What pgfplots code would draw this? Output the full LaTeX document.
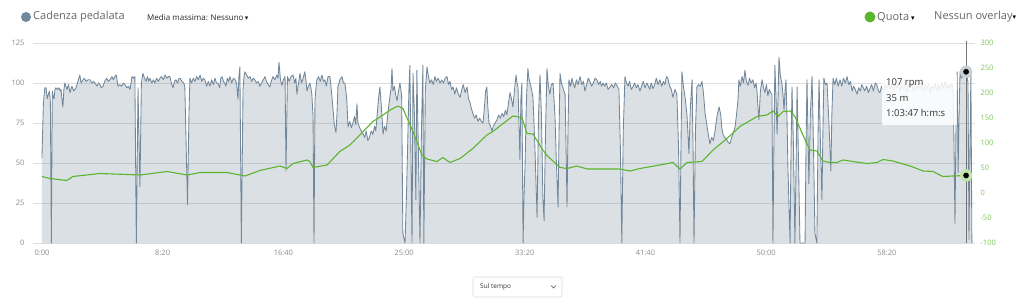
\documentclass[border=0pt]{standalone}
\usepackage{pgfplots}
\pgfplotsset{compat=1.18}
\usepackage{pgfplotstable}
\usepackage{fontspec}
\setmainfont{Open Sans}
\newfontfamily\dejavu{DejaVu Sans}
\definecolor{cadline}{HTML}{72879A}
\definecolor{cadfill}{HTML}{6E8496}
\definecolor{quota}{HTML}{5BB52C}
\definecolor{qlabel}{HTML}{7DC855}
\definecolor{labgray}{HTML}{8A8A8A}
\definecolor{gridgray}{HTML}{DEDEDE}
\definecolor{headgray}{HTML}{666666}
\definecolor{darktext}{HTML}{333333}
\definecolor{halogray}{HTML}{C9CED3}
\definecolor{halogreen}{HTML}{BFE3A8}

\pgfplotstableread{
t c
0 53
6 87
12 97
17 97
22 90
25 92
31 95
35 88
39 0
43 95
47 91
50 90
54 96
58 97
64 96
70 97
76 95
79 96
83 90
87 85
91 96
95 100
99 98
104 96
110 99
116 94
124 98
132 95
141 97
149 101
157 105
162 100
166 101
175 103
183 101
191 102
199 102
207 100
214 101
220 100
228 98
235 100
240 99
246 97
253 98
260 101
268 103
275 101
282 102
290 104
296 102
302 104
308 105
315 98
322 99
330 98
337 100
344 99
352 97
358 98
365 96
369 100
373 104
379 103
385 104
391 0
398 97
406 35
412 100
418 106
425 103
431 101
437 104
442 101
447 103
455 100
462 102
468 100
475 103
482 101
489 103
495 104
503 102
510 105
517 103
524 104
530 104
536 100
543 97
549 101
555 102
562 100
568 103
572 103
580 101
588 100
592 97
603 24
609 80
613 103
620 100
627 103
634 101
641 104
648 102
655 105
662 101
668 103
675 102
682 98
689 101
696 98
703 102
710 99
717 103
723 100
729 100
736 97
741 103
746 104
752 101
757 100
762 98
768 103
773 101
779 104
786 100
793 103
800 102
806 100
812 90
816 104
820 110
826 0
833 96
837 104
841 107
848 105
855 103
862 104
869 101
875 103
882 102
889 100
896 101
903 98
910 100
917 102
924 104
930 101
937 99
944 97.5
950 101
957 104
965 102
973 105
978 103
982 113
988 102
994 98.5
1000 102
1007 104
1011 45
1017 104
1024 101
1032 104
1040 105
1047 100
1052 103
1056 93
1062 99
1069 106
1075 100
1082 103
1089 107
1094 101
1098 95
1104 98
1110 100
1115 96
1118 93
1123 79
1127 0
1131 89
1135 97
1139 102
1146 104
1153 101
1160 105
1166 101
1172 102
1178 98
1185 104
1193 104
1199 95
1205 85
1211 74
1218 69
1222 80
1226 97.5
1234 102
1243 104
1249 100
1255 100
1259 95
1263 89
1268 72.5
1275 76
1282 72
1288 75
1295 79
1300 74
1305 87
1309 75
1316 72
1323 70
1330 68
1337 66
1343 70
1350 64
1357 66
1364 70
1371 68
1378 73
1383 70
1388 79
1394 90
1400 97.5
1406 85
1413 68
1419 73
1426 70
1433 81
1440 90
1446 96
1450 109
1454 95
1460 98
1466 92
1471 89
1477 95
1483 100
1490 92
1495 6
1504 0
1510 30
1516 68
1520 95
1524 111
1533 0
1537 106
1543 80
1549 27
1553 108
1559 60
1566 0
1572 70
1578 111
1582 0
1588 95
1595 110
1601 104
1607 100
1614 102
1621 99
1628 104
1634 101
1641 103
1649 100
1656 102
1663 100
1670 103
1678 104
1684 99
1690 101
1697 96
1703 97.5
1710 93
1717 97
1725 93
1732 91
1738 95
1745 99
1753 94
1761 97.5
1767 90
1773 88
1779 84
1785 81
1792 78
1799 80
1806 76
1813 78
1820 76
1827 75
1833 85
1838 95
1843 97.5
1847 85
1852 75
1858 73
1864 70
1870 73
1877 75
1885 77
1892 80
1899 78
1906 81
1913 79
1920 83
1926 80
1933 88
1939 94
1945 90
1951 85
1957 95
1964 105
1968 100
1972 97.5
1976 75
1980 52
1984 90
1988 100
1993 0
1997 30
2001 47.5
2007 90
2013 109
2017 103
2022 100
2028 96
2034 91
2042 60
2051 16
2057 80
2063 105
2069 80
2075 29
2080 14
2086 70
2092 109
2098 98
2104 93
2110 99
2117 100
2125 80
2131 50
2138 22.5
2142 70
2146 106
2152 100
2160 96
2167 93
2171 60
2175 22.5
2179 70
2183 102
2190 98
2196 103
2200 100
2207 97
2214 102
2221 99
2229 104
2236 99
2243 101
2249 95
2256 99
2263 103
2270 101
2277 98
2284 100
2291 103
2299 102
2306 99
2313 101
2318 98
2324 100
2331 98
2338 100
2345 96
2353 97.5
2360 99
2368 97
2375 100
2382 98.5
2390 96
2396 60
2402 0
2408 70
2415 104
2421 100
2428 98
2434 101
2441 96
2448 97.5
2455 100
2462 97
2469 99
2477 95
2484 98
2491 101
2498 97
2506 100
2512 98
2518 96
2524 100
2531 96.5
2538 99
2545 103
2552 99
2560 102
2567 98
2574 101
2580 99
2587 104
2593 103
2600 98
2607 96
2614 91
2622 96
2630 93
2637 60
2643 0
2647 60
2651 107
2657 98
2664 91
2672 80
2680 56
2686 85
2693 102
2697 60
2701 0
2707 70
2713 97.5
2720 99
2727 98
2734 101
2740 94
2747 81
2753 75
2760 68
2767 62
2774 66
2781 64
2788 70
2795 78
2800 82
2805 85
2812 80
2816 72
2821 68
2828 66
2835 65
2842 63
2850 62
2857 66
2864 69
2871 72.5
2877 80
2883 89
2887 102
2893 98
2900 104
2906 100
2912 108
2918 101
2925 98.5
2931 103
2938 100
2945 102
2952 97
2958 100
2962 95
2966 85
2970 77
2976 95
2983 102
2989 97
2995 94
3001 99
3007 92
3013 96
3018 94
3024 93
3028 0
3032 60
3036 111
3041 90
3045 68
3049 90
3053 116
3059 104
3065 100
3070 92
3074 83
3078 95
3082 102
3086 80
3090 47.5
3095 20
3099 0
3103 60
3107 97.5
3113 60
3119 0
3124 50
3128 97.5
3134 50
3140 0
3161 0
3165 60
3169 102
3173 70
3177 37
3183 80
3190 104
3196 60
3202 6
3210 0
3215 70
3219 102
3225 60
3231 27
3235 70
3239 103
3245 99
3252 100
3260 75
3268 45
3272 80
3277 103
3284 99
3291 103
3298 98
3306 102
3313 98
3320 103
3328 100
3335 104
3342 99
3349 101
3356 95
3362 98
3369 96
3376 93
3383 97
3390 95
3396 99
3401 97.5
3408 95
3416 98
3423 94
3430 96.5
3437 99
3444 95
3452 100
3459 98.5
3465 95
3471 94
3478 98
3485 95
3492 99
3499 96
3506 100
3513 96
3520 99
3527 95
3534 100
3541 97
3548 99
3554 95
3561 100
3568 96
3575 99
3582 94
3589 100
3596 97
3603 99
3610 95
3616 101
3623 96
3630 99
3637 96
3644 100
3651 95
3658 99
3665 96
3672 100
3679 94
3686 98
3692 96
3699 100
3706 95
3713 99
3720 96
3727 100
3734 97
3741 101
3748 96
3755 99
3762 97
3768 100
3774 97.5
3778 60
3782 12
3786 70
3791 107
3795 44
3799 80
3803 107
3809 103
3815 104
3821 106
3828 107
3832 104
3836 100
3840 2
3844 60
3848 106
3852 0
}\cad

\pgfplotstableread{
t e
0 33
33 29
102 25
116 29
128 33
240 39
406 36
518 43
601 36
655 41
766 41
841 34
903 45
986 54
1015 49
1040 59
1098 66
1110 63
1123 51
1181 56
1234 83
1276 96
1317 116
1371 143
1413 156
1442 166
1475 174
1495 169
1537 123
1574 76
1595 68
1636 63
1661 71
1690 61
1732 69
1785 89
1843 116
1868 123
1910 139
1951 154
1988 151
2009 119
2034 118
2071 89
2092 75
2146 51
2175 49
2216 54
2258 48
2394 48
2436 44
2477 49
2560 56
2614 61
2643 48
2672 61
2734 63
2780 86
2838 109
2891 133
2920 141
2962 153
3003 156
3028 164
3049 153
3070 163
3099 164
3119 153
3152 116
3181 86
3210 84
3235 64
3264 61
3293 61
3318 66
3360 63
3418 59
3459 61
3484 67
3525 64
3596 54
3650 44
3691 43
3732 33
3774 34
3828 35
3852 34
}\quo

\begin{document}
\begin{tikzpicture}
\useasboundingbox (0pt,0pt) rectangle (1024pt,300pt);
\begin{axis}[
  at={(33pt,57pt)}, anchor=south west,
  scale only axis, width=942pt, height=200pt,
  xmin=-37, xmax=3865, ymin=0, ymax=125,
  ytick={0,25,50,75,100,125},
  xtick={0,500,1000,1500,2000,2500,3000,3500},
  xticklabels={0:00,8:20,16:40,25:00,33:20,41:40,50:00,58:20},
  ymajorgrids, grid style={draw=gridgray, line width=0.7pt},
  axis line style={draw=none},
  major tick length=0pt,
  /pgf/number format/assume math mode=true,
  tick label style={font=\fontsize{7.5}{9}\selectfont, text=labgray},
  yticklabel style={xshift=-5pt},
  xticklabel style={yshift=-4pt},
  clip=false,
]
\addplot[draw=none, fill=cadfill, fill opacity=0.25] table[x=t,y=c] {\cad} \closedcycle;
\addplot[draw=cadline, line width=0.85pt, line join=round] table[x=t,y=c] {\cad};
\end{axis}
\begin{axis}[
  at={(33pt,57pt)}, anchor=south west,
  scale only axis, width=942pt, height=200pt,
  xmin=-37, xmax=3865, ymin=-100, ymax=300,
  ytick={-100,-50,0,50,100,150,200,250,300},
  hide x axis,
  axis y line*=right,
  axis line style={draw=none},
  major tick length=0pt,
  /pgf/number format/assume math mode=true,
  tick label style={font=\fontsize{7.5}{9}\selectfont, text=qlabel},
  yticklabel style={xshift=2pt},
]
\addplot[draw=quota, line width=1.1pt, line join=round] table[x=t,y=e] {\quo};
\end{axis}
% tooltip
\fill[white, opacity=0.85] (882pt,175pt) rectangle (957pt,225pt);
\node[anchor=west, inner sep=0pt, font=\fontsize{9.5}{11}\selectfont, text=darktext] at (886pt,217pt) {107 rpm};
\node[anchor=west, inner sep=0pt, font=\fontsize{9.5}{11}\selectfont, text=darktext] at (886pt,202pt) {35 m};
\node[anchor=west, inner sep=0pt, font=\fontsize{9.5}{11}\selectfont, text=darktext] at (886pt,187pt) {1:03:47 h:m:s};
\begin{axis}[
  at={(33pt,57pt)}, anchor=south west,
  scale only axis, width=942pt, height=200pt,
  xmin=-37, xmax=3865, ymin=0, ymax=125,
  hide axis, clip=false,
]
\addplot[draw=black!55, line width=0.7pt, mark=none] coordinates {(3828,0) (3828,126)};
\addplot[only marks, mark=*, color=halogray, mark size=6pt, mark options={draw=halogray, fill=halogray}] coordinates {(3828,107)};
\addplot[only marks, mark=*, color=black, mark size=2.6pt, mark options={draw=black, fill=black}] coordinates {(3828,107)};
\end{axis}
\begin{axis}[
  at={(33pt,57pt)}, anchor=south west,
  scale only axis, width=942pt, height=200pt,
  xmin=-37, xmax=3865, ymin=-100, ymax=300,
  hide axis, clip=false,
]
\addplot[only marks, mark=*, color=halogreen, mark size=6pt, mark options={draw=halogreen, fill=halogreen}] coordinates {(3828,35)};
\addplot[only marks, mark=*, color=black, mark size=2.6pt, mark options={draw=black, fill=black}] coordinates {(3828,35)};
\end{axis}
% header
\fill[cadline] (26pt,283pt) circle (5pt);
\node[anchor=west, inner sep=0pt, font=\fontsize{11}{13}\selectfont, text=headgray] at (33pt,283pt) {Cadenza pedalata};
\node[anchor=west, inner sep=0pt, font=\fontsize{8}{10}\selectfont, text=black!85] at (147pt,282pt) {Media massima: Nessuno\,{\dejavu\fontsize{7}{8}\selectfont ▾}};
\fill[quota] (870pt,283pt) circle (5.5pt);
\node[anchor=west, inner sep=0pt, font=\fontsize{11}{13}\selectfont, text=headgray] at (877pt,283pt) {Quota\,{\dejavu\fontsize{7}{8}\selectfont\color{black}▾}};
\node[anchor=west, inner sep=0pt, font=\fontsize{11}{13}\selectfont, text=headgray] at (934pt,283pt) {Nessun overlay{\dejavu\fontsize{7}{8}\selectfont\color{black}▾}};
% bottom selector
\draw[draw=black!15, line width=0.6pt, rounded corners=1.5pt] (473pt,3pt) rectangle (562pt,23pt);
\node[anchor=west, inner sep=0pt, font=\fontsize{6.5}{8}\selectfont, text=darktext] at (480pt,13pt) {Sul tempo};
\draw[black!70, line width=0.6pt] (551pt,14.5pt) -- (553.5pt,12pt) -- (556pt,14.5pt);
\end{tikzpicture}
\end{document}
